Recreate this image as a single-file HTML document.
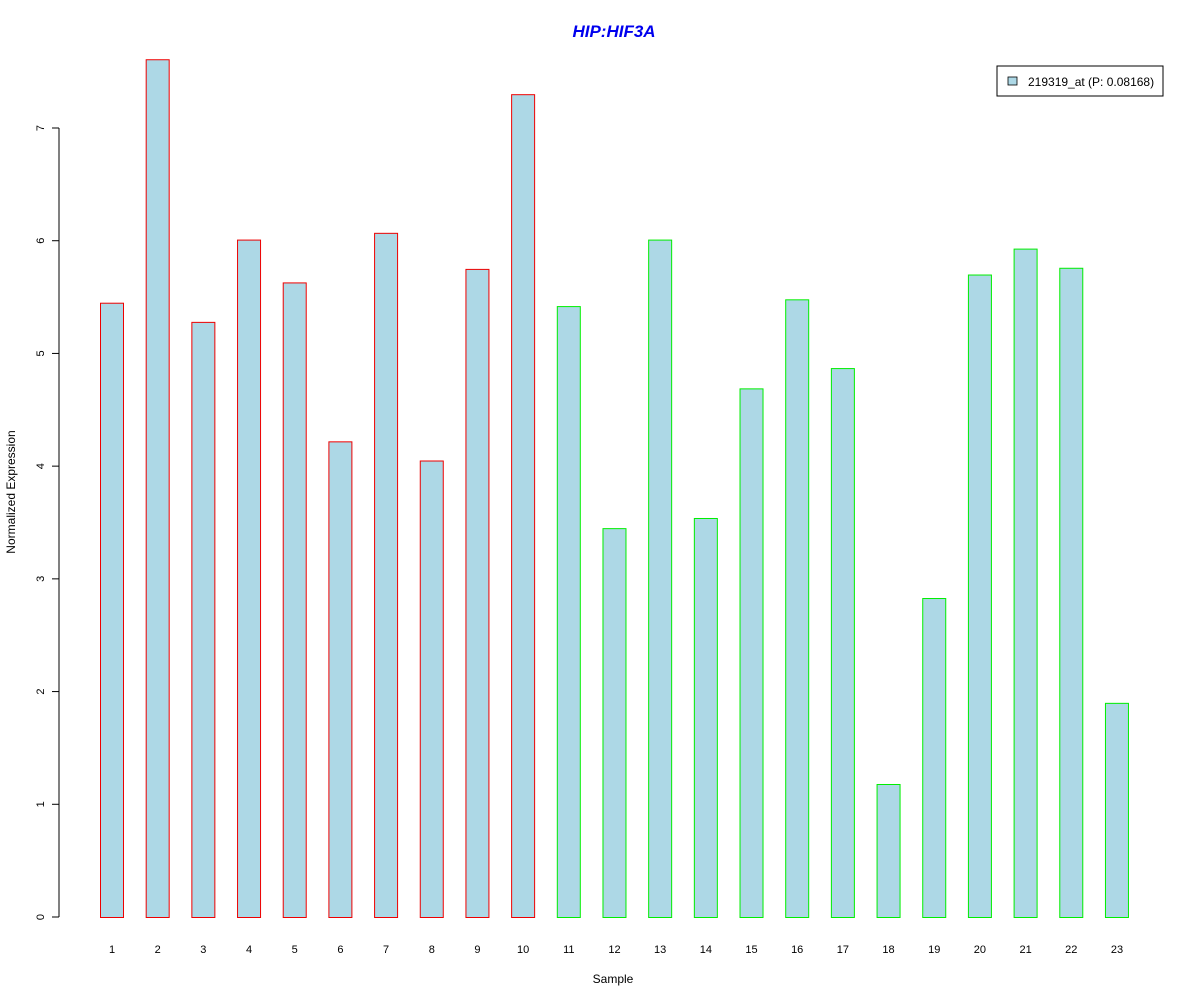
<!DOCTYPE html>
<html><head><meta charset="utf-8"><style>
html,body{margin:0;padding:0;background:#fff;}
svg{display:block;font-family:"Liberation Sans",Arial,sans-serif;}
</style></head><body>
<svg id="chart" width="1200" height="1000" viewBox="0 0 1200 1000">
<rect width="1200" height="1000" fill="#fff"/>
<text x="614" y="37" text-anchor="middle" font-size="17" font-weight="bold" font-style="italic" fill="#0000ee">HIP:HIF3A</text>
<g id="yaxis"></g>
<g id="bars"></g>
<g id="xlabels"></g>
<text x="613" y="983" text-anchor="middle" font-size="12">Sample</text>
<text transform="translate(15,492) rotate(-90)" text-anchor="middle" font-size="12">Normalized Expression</text>
<g>
<rect x="997" y="66" width="166" height="30" fill="#fff" stroke="#000" stroke-width="1"/>
<rect x="1008" y="77" width="9" height="8" fill="#add8e6" stroke="#000" stroke-width="0.8"/>
<text x="1028" y="86" font-size="12">219319_at (P: 0.08168)</text>
</g>
</svg>
<script>
const categories = ["1","2","3","4","5","6","7","8","9","10","11","12","13","14","15","16","17","18","19","20","21","22","23"];
const values = [5.45,7.61,5.28,6.01,5.63,4.22,6.07,4.05,5.75,7.30,5.42,3.45,6.01,3.54,4.69,5.48,4.87,1.18,2.83,5.70,5.93,5.76,1.90];
const groups = ["a","a","a","a","a","a","a","a","a","a","b","b","b","b","b","b","b","b","b","b","b","b","b"];
const yTicks = [0,1,2,3,4,5,6,7];
const NS="http://www.w3.org/2000/svg";
const y0=917, pxPerUnit=(917-128)/7;
const yScale=v=>y0-v*pxPerUnit;
const xLeft=i=>100+i*45.68;
const bw=23;
function mk(t,a){const e=document.createElementNS(NS,t);for(const k in a)e.setAttribute(k,a[k]);return e;}
const ya=document.getElementById('yaxis');
const axLine=mk('line',{x1:59,x2:59,y1:yScale(yTicks[0]),y2:yScale(yTicks[yTicks.length-1]),stroke:'#000'});


ya.appendChild(axLine);
yTicks.forEach(t=>{
  const y=yScale(t);
  const tk=mk('line',{x1:52,x2:59,y1:y,y2:y,stroke:'#000'});
  
  
  ya.appendChild(tk);
  const tx=mk('text',{transform:`translate(44,${y}) rotate(-90)`,'text-anchor':'middle','font-size':11});
  
  
  tx.textContent=t;ya.appendChild(tx);
});
const bg=document.getElementById('bars'), xl=document.getElementById('xlabels');
values.forEach((v,i)=>{
  const x=xLeft(i), top=yScale(v);
  const r=mk('rect',{x:x+0.5,y:top+0.5,width:bw,height:y0-top,fill:'#add8e6',stroke:groups[i]==='a'?'#ee0000':'#00ee00','stroke-width':1});
  
  
  bg.appendChild(r);
  const t=mk('text',{x:x+bw/2+0.5,y:953,'text-anchor':'middle','font-size':11});
  
  
  t.textContent=categories[i];xl.appendChild(t);
});
</script>
</body></html>
